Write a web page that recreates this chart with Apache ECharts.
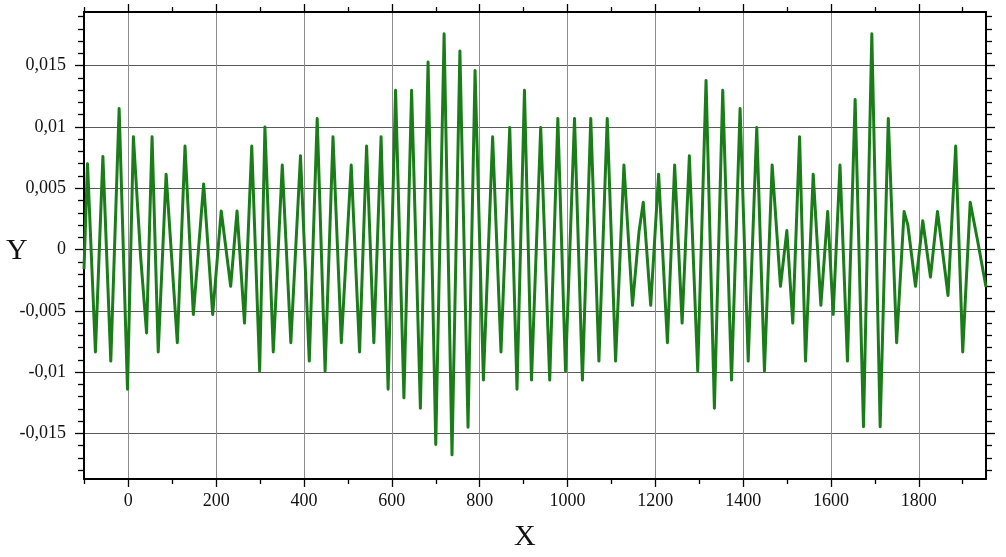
<!DOCTYPE html>
<html><head><meta charset="utf-8">
<script src="https://cdn.jsdelivr.net/npm/echarts@6/dist/echarts.min.js"></script>
<style>html,body{margin:0;padding:0;background:#fff}#c{width:1006px;height:557px}</style>
</head><body><div id="c"></div>
<script>
// Signal samples (turning points)
const X_VALUES = [
  -101, -93, -75, -58, -40, -21, -2, 11.5, 28, 41.5, 54, 68, 86, 111.5, 129, 148, 171.5, 192,
  211.5, 233, 247.5, 264.5, 281, 299, 311, 330, 350.5, 370, 392, 412, 430, 448, 466, 485,
  507.5, 526.5, 542.5, 559, 575.5, 591.5, 608.5, 627.5, 645, 665, 682.5, 700, 719, 737, 755,
  773.5, 789.5, 808.5, 829.5, 848.5, 868.5, 885, 902, 918, 939, 959.5, 978, 995.5, 1016,
  1034, 1053, 1071.5, 1090.5, 1109.5, 1128.5, 1148, 1163, 1172.5, 1189.5, 1207.5, 1227.5,
  1244, 1261, 1277.5, 1296.5, 1315.5, 1334.5, 1353.5, 1373.5, 1393, 1411.5, 1431, 1448.5,
  1466, 1485, 1499.5, 1513, 1528.5, 1542, 1559.5, 1577, 1592.5, 1605, 1620.5, 1637.5, 1655,
  1674, 1693, 1712, 1730.5, 1749.5, 1766.5, 1775, 1792.5, 1809, 1826.5, 1842.5, 1859, 1866.5,
  1884, 1900, 1917, 1933.5, 1953
];
const Y_VALUES = [
  -0.0016, 0.0070, -0.00835, 0.0076, -0.0091, 0.0115, -0.0114, 0.0092, -0.0006, -0.0068, 0.0092, -0.00835, 0.00615, -0.0076, 0.00845, -0.0053, 0.00535, -0.0053,
  0.00315, -0.0030, 0.00315, -0.0060, 0.00845, -0.0099, 0.0100, -0.00835, 0.0069, -0.0076, 0.00765, -0.0091, 0.0107, -0.0099, 0.0092, -0.0076,
  0.0069, -0.00835, 0.00845, -0.0076, 0.0092, -0.0114, 0.0130, -0.0121, 0.0130, -0.01295, 0.0153, -0.0159, 0.0176, -0.01675, 0.0162,
  -0.0145, 0.0146, -0.01065, 0.0092, -0.00835, 0.00995, -0.0114, 0.0130, -0.01065, 0.00995, -0.01065, 0.0107, -0.0099, 0.0107,
  -0.01065, 0.0107, -0.0091, 0.0107, -0.0091, 0.0069, -0.00455, 0.0015, 0.00385, -0.00455, 0.00615, -0.0076,
  0.0069, -0.0060, 0.00765, -0.0099, 0.0138, -0.01295, 0.0130, -0.01065, 0.0115, -0.0091, 0.00995, -0.0099,
  0.0069, -0.0030, 0.00155, -0.0060, 0.0092, -0.0091, 0.00615, -0.00455, 0.0031, -0.0053, 0.0069, -0.0091, 0.01225,
  -0.01445, 0.0176, -0.01445, 0.0107, -0.0076, 0.0031, 0.0020, -0.0030, 0.00235, -0.00225, 0.0031, -0.00155, -0.00375,
  0.00845, -0.00835, 0.00385, 0.0008, -0.00305
];

// Axis ticks and labels
const X_TICKS = [0, 200, 400, 600, 800, 1000, 1200, 1400, 1600, 1800];
const X_MINOR_TICKS = [-100, 100, 300, 500, 700, 900, 1100, 1300, 1500, 1700, 1900];
const Y_TICKS = [-0.015, -0.01, -0.005, 0, 0.005, 0.01, 0.015];
const Y_MINOR_TICKS = [-0.018, -0.017, -0.016, -0.014, -0.013, -0.012, -0.011, -0.009, -0.008, -0.007, -0.006,
  -0.004, -0.003, -0.002, -0.001, 0.001, 0.002, 0.003, 0.004, 0.006, 0.007, 0.008, 0.009,
  0.011, 0.012, 0.013, 0.014, 0.016, 0.017, 0.018, 0.019];
const X_RANGE = [-101, 1953];
const Y_RANGE = [-0.01872, 0.01938];
const X_TITLE = 'X';
const Y_TITLE = 'Y';

const FONT = "'Liberation Serif', 'DejaVu Serif', serif";
const fmtY = v => Math.abs(v) < 1e-12 ? '0' : String(parseFloat(v.toFixed(4))).replace('.', ',');
const fmtX = v => String(Math.round(v));

function xAx(pos, vals, len, main) {
  return {
    type: 'value', min: X_RANGE[0], max: X_RANGE[1], position: pos, gridIndex: 0,
    axisLine: { show: main, onZero: false, lineStyle: { color: '#000', width: 2 } },
    axisTick: { show: true, inside: false, length: len, customValues: vals, lineStyle: { color: '#000', width: 1.3 } },
    axisLabel: { show: main && pos === 'bottom', customValues: vals, margin: 13, color: '#111',
      fontFamily: FONT, fontSize: 18, formatter: fmtX },
    splitLine: { show: main && pos === 'bottom', lineStyle: { color: '#8c8c8c', width: 1 } },
    minorTick: { show: false }, minorSplitLine: { show: false }
  };
}
function yAx(pos, vals, len, main) {
  return {
    type: 'value', min: Y_RANGE[0], max: Y_RANGE[1], position: pos, gridIndex: 0,
    axisLine: { show: main, onZero: false, lineStyle: { color: '#000', width: 2 } },
    axisTick: { show: true, inside: false, length: len, customValues: vals, lineStyle: { color: '#000', width: 1.3 } },
    axisLabel: { show: main && pos === 'left', customValues: vals, margin: 18, color: '#111',
      fontFamily: FONT, fontSize: 18, formatter: fmtY },
    splitLine: { show: main && pos === 'left', lineStyle: { color: '#5a5a5a', width: 1 } },
    minorTick: { show: false }, minorSplitLine: { show: false }
  };
}

const chart = echarts.init(document.getElementById('c'), null, { renderer: 'canvas' });
chart.setOption({
  animation: false,
  backgroundColor: '#fff',
  grid: { left: 84, top: 12, right: 20, bottom: 78, containLabel: false, outerBoundsMode: 'none' },
  xAxis: [
    xAx('bottom', X_TICKS, 8, true),
    xAx('bottom', X_MINOR_TICKS, 5, false),
    xAx('top', X_TICKS, 8, true),
    xAx('top', X_MINOR_TICKS, 5, false)
  ],
  yAxis: [
    yAx('left', Y_TICKS, 9, true),
    yAx('left', Y_MINOR_TICKS, 6, false),
    yAx('right', Y_TICKS, 9, true),
    yAx('right', Y_MINOR_TICKS, 6, false)
  ],
  graphic: [
    { type: 'text', left: 6, top: 236, style: { text: Y_TITLE, font: "30px " + FONT, fill: '#111' } },
    { type: 'text', left: 514, top: 522, style: { text: X_TITLE, font: "30px " + FONT, fill: '#111' } }
  ],
  series: [{
    type: 'line', xAxisIndex: 0, yAxisIndex: 0,
    data: X_VALUES.map((x, i) => [x, Y_VALUES[i]]),
    showSymbol: false, symbol: 'none', smooth: false, clip: true,
    lineStyle: { color: '#1a7d1a', width: 3, join: 'round' }
  }]
});
</script>
</body></html>
